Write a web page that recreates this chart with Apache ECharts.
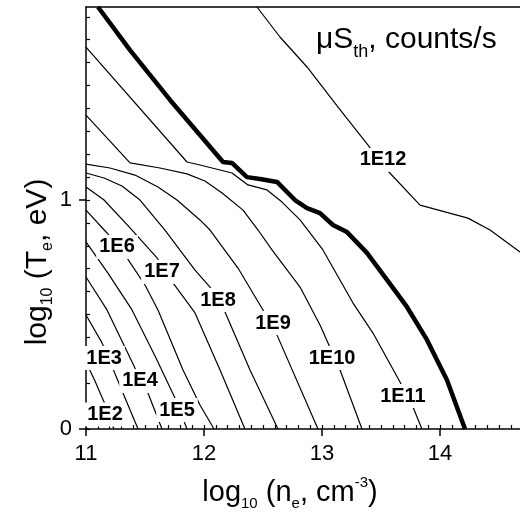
<!DOCTYPE html>
<html><head><meta charset="utf-8">
<script src="https://cdn.jsdelivr.net/npm/echarts@6/dist/echarts.min.js"></script>
<style>html,body{margin:0;padding:0;background:#fff}#c{width:520px;height:517px}</style>
</head><body><div id="c"></div>
<script>
const X_MIN = 11, X_MAX = 14.678, Y_MIN = 0, Y_MAX = 1.843;
const xTickLabels = [11, 12, 13, 14];
const yTickLabels = [0, 1];

// contour lines  [log10 ne, log10 Te]
const c1E2 = [[11.0,0.293],[11.076,0.210],[11.153,0.118],[11.237,0]];
const c1E3 = [[11.0,0.498],[11.136,0.376],[11.229,0.262],[11.331,0.135],[11.441,0]];
const c1E4 = [[11.0,0.664],[11.178,0.520],[11.415,0.266],[11.525,0.157],[11.644,0]];
const c1E5 = [[11.0,0.817],[11.186,0.681],[11.390,0.520],[11.585,0.319],[11.754,0.135],[11.856,0]];
const c1E6 = [[11.0,0.956],[11.178,0.856],[11.347,0.747],[11.5,0.629],[11.610,0.520],[11.822,0.258],[11.966,0.105],[12.085,0]];
const c1E7 = [[11.0,1.057],[11.153,1.0],[11.373,0.878],[11.602,0.747],[11.737,0.638],[11.924,0.507],[12.136,0.258],[12.347,0]];
const c1E8 = [[11.0,1.118],[11.153,1.096],[11.305,1.061],[11.458,1.0],[11.669,0.869],[11.924,0.694],[12.051,0.620],[12.178,0.511],[12.390,0.258],[12.627,0]];
const c1E9 = [[11.0,1.157],[11.203,1.140],[11.415,1.109],[11.610,1.057],[11.771,1.0],[11.966,0.913],[12.051,0.869],[12.288,0.703],[12.5,0.520],[12.619,0.410],[12.966,0]];
const c1E10 = [[11.0,1.371],[11.373,1.162],[11.627,1.140],[11.856,1.114],[12.008,1.083],[12.153,1.031],[12.331,0.956],[12.458,0.869],[12.576,0.782],[12.814,0.620],[12.983,0.454],[13.153,0.258],[13.339,0]];
const c1E11 = [[11.0,1.668],[11.856,1.166],[11.966,1.153],[12.237,1.118],[12.373,1.066],[12.534,1.044],[12.661,0.991],[12.814,0.913],[13.008,0.782],[13.263,0.550],[13.432,0.419],[13.661,0.205],[13.771,0.096],[13.847,0]];
const cThick = [[11.102,1.843],[11.373,1.655],[11.712,1.437],[12.161,1.166],[12.237,1.162],[12.364,1.100],[12.475,1.092],[12.619,1.079],[12.771,1.0],[12.873,0.965],[12.983,0.943],[13.093,0.891],[13.212,0.860],[13.381,0.769],[13.551,0.651],[13.720,0.533],[13.890,0.389],[14.059,0.214],[14.212,0]];
const c1E12 = [[12.449,1.843],[12.644,1.712],[12.873,1.581],[13.136,1.406],[13.390,1.240],[13.551,1.131],[13.831,0.978],[14.237,0.921],[14.424,0.869],[14.678,0.773]];

const labelNames = ['1E2','1E3','1E4','1E5','1E6','1E7','1E8','1E9','1E10','1E11','1E12'];
const labelX = [11.161,11.153,11.458,11.771,11.263,11.644,12.119,12.585,13.085,13.686,13.517];
const labelY = [0.063,0.31,0.21,0.083,0.795,0.686,0.563,0.463,0.31,0.144,1.175];

const FONT = '"Liberation Sans", Arial, Helvetica, sans-serif';
const thinLines = [c1E2,c1E3,c1E4,c1E5,c1E6,c1E7,c1E8,c1E9,c1E10,c1E11,c1E12];

const xMinor = []; for (let i = 0; i <= 36; i++) xMinor.push(+(11 + i / 10).toFixed(1));
const yMinor = []; for (let i = 0; i <= 18; i++) yMinor.push(+(i / 10).toFixed(1));

const chart = echarts.init(document.getElementById('c'), null, {renderer: 'canvas'});
const axisLine = {show: true, lineStyle: {color: '#000', width: 1.5}};
const series = thinLines.map(d => ({
  type: 'line', data: d, showSymbol: false, symbol: 'none', silent: true,
  lineStyle: {color: '#000', width: 1.2}, z: 2
}));
series.push({type: 'line', data: cThick, showSymbol: false, symbol: 'none', silent: true,
  lineStyle: {color: '#000', width: 4.5}, z: 3});
series.push({
  type: 'scatter', silent: true, z: 10, symbolSize: 1,
  itemStyle: {color: 'rgba(0,0,0,0)', opacity: 1},
  data: labelNames.map((n, i) => ({name: n, value: [labelX[i], labelY[i]]})),
  label: {show: true, position: 'inside', formatter: '{b}', fontFamily: FONT, fontSize: 20,
    fontWeight: 'bold', color: '#000', opacity: 1, textBorderWidth: 0,
    backgroundColor: '#fff', padding: [2, 3]}
});

chart.setOption({
  animation: false,
  backgroundColor: '#fff',
  grid: {left: 86, right: 0, top: 7, bottom: 88},
  xAxis: [
    {type: 'value', min: X_MIN, max: X_MAX, position: 'bottom', axisLine,
     axisTick: {show: true, inside: false, length: 7, customValues: xTickLabels, lineStyle: {color: '#000', width: 1.5}},
     axisLabel: {show: true, customValues: xTickLabels, margin: 14, fontSize: 22, color: '#000', fontFamily: FONT},
     splitLine: {show: false}},
    {type: 'value', min: X_MIN, max: X_MAX, position: 'bottom', axisLine: {show: false},
     axisTick: {show: true, inside: true, length: 4, customValues: xMinor, lineStyle: {color: '#000', width: 1.2}},
     axisLabel: {show: false}, splitLine: {show: false}},
    {type: 'value', min: X_MIN, max: X_MAX, position: 'top', axisLine,
     axisTick: {show: false}, axisLabel: {show: false}, splitLine: {show: false}}
  ],
  yAxis: [
    {type: 'value', min: Y_MIN, max: Y_MAX, position: 'left', axisLine,
     axisTick: {show: true, inside: false, length: 7, customValues: yTickLabels, lineStyle: {color: '#000', width: 1.5}},
     axisLabel: {show: true, customValues: yTickLabels, margin: 14, fontSize: 22, color: '#000', fontFamily: FONT},
     splitLine: {show: false}},
    {type: 'value', min: Y_MIN, max: Y_MAX, position: 'left', axisLine: {show: false},
     axisTick: {show: true, inside: true, length: 4, customValues: yMinor, lineStyle: {color: '#000', width: 1.2}},
     axisLabel: {show: false}, splitLine: {show: false}}
  ],
  graphic: [
    {type: 'text', x: 290, y: 493, silent: true, style: {
      text: '{m|log}{s|10}{m| (n}{s|e}{m|, cm}{p|-3}{m|)}', align: 'center', verticalAlign: 'middle',
      rich: {
        m: {fontSize: 29, fontFamily: FONT, color: '#000', lineHeight: 36},
        s: {fontSize: 15, fontFamily: FONT, color: '#000', lineHeight: 10, verticalAlign: 'bottom'},
        p: {fontSize: 15, fontFamily: FONT, color: '#000', lineHeight: 14, verticalAlign: 'top'}
      }}},
    {type: 'text', x: 38, y: 262, rotation: Math.PI / 2, silent: true, style: {
      text: '{m|log}{s|10}{m| (T}{s|e}{m|, eV)}', align: 'center', verticalAlign: 'middle',
      rich: {
        m: {fontSize: 30, fontFamily: FONT, color: '#000', lineHeight: 36},
        s: {fontSize: 16, fontFamily: FONT, color: '#000', lineHeight: 10, verticalAlign: 'bottom'}
      }}},
    {type: 'text', x: 316, y: 19, silent: true, style: {
      text: '{m|μS}{s|th}{m|, counts/s}', align: 'left', verticalAlign: 'top',
      rich: {
        m: {fontSize: 30, fontFamily: FONT, color: '#000', lineHeight: 42},
        s: {fontSize: 18, fontFamily: FONT, color: '#000', lineHeight: 8, verticalAlign: 'bottom'}
      }}}
  ],
  series
});
</script></body></html>
